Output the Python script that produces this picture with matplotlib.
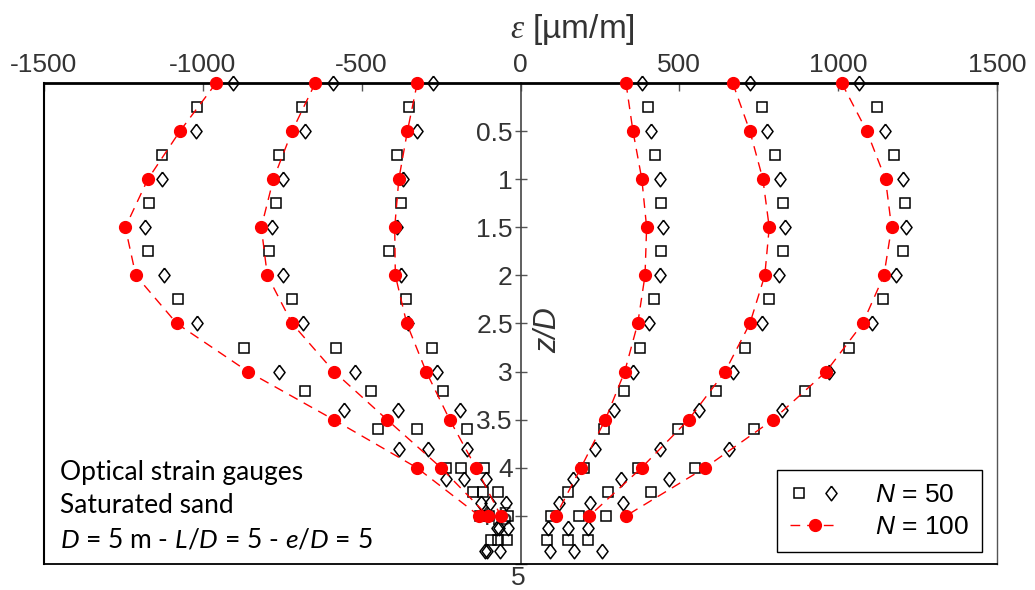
import matplotlib
matplotlib.use("Agg")
import matplotlib.pyplot as plt
from matplotlib.lines import Line2D
from matplotlib.legend_handler import HandlerTuple

# --- fuentes ---
plt.rcParams['font.family'] = ['Liberation Sans', 'DejaVu Sans']
plt.rcParams['axes.unicode_minus'] = False
plt.rcParams['mathtext.fontset'] = 'custom'
plt.rcParams['mathtext.rm'] = 'Lato'
plt.rcParams['mathtext.it'] = 'Lato:italic'
plt.rcParams['mathtext.sf'] = 'Liberation Sans:italic'
plt.rcParams['mathtext.bf'] = 'Liberation Serif:italic'

# --- profundidades z/D ---
z_n100 = [0, 0.5, 1, 1.5, 2, 2.5, 3, 3.5, 4, 4.5]
z_sq = [0.25, 0.75, 1.25, 1.75, 2.25, 2.75, 3.2, 3.6, 4.0, 4.25, 4.5, 4.75]
z_di = [0, 0.5, 1, 1.5, 2, 2.5, 3, 3.4, 3.8, 4.12, 4.37, 4.63, 4.87]

# --- N = 100 (rojo) ---
n100_L3 = [-958, -1072, -1173, -1244, -1211, -1082, -858, -588, -326, -130]
n100_L2 = [-646, -719, -778, -816, -797, -719, -587, -420, -250, -103]
n100_L1 = [-325, -356, -383, -396, -394, -358, -297, -223, -140, -62]
n100_R1 = [332, 354, 382, 397, 392, 369, 328, 267, 190, 111]
n100_R2 = [668, 722, 763, 783, 769, 722, 644, 529, 381, 217]
n100_R3 = [1011, 1090, 1149, 1168, 1144, 1077, 962, 795, 581, 332]

# --- N = 50, cuadrados ---
sq_L3 = [-1017, -1128, -1169, -1173, -1078, -871, -678, -450, -234, -150, -128, -92]
sq_L2 = [-688, -761, -770, -793, -719, -582, -471, -325, -187, -119, -100, -72]
sq_L1 = [-352, -390, -375, -413, -360, -279, -243, -168, -114, -72, -39, -44]
sq_R1 = [401, 423, 442, 442, 419, 377, 327, 262, 201, 149, 97, 83]
sq_R2 = [759, 800, 827, 827, 781, 708, 615, 497, 369, 276, 185, 148]
sq_R3 = [1122, 1177, 1209, 1204, 1140, 1033, 896, 735, 549, 410, 268, 213]

# --- N = 50, rombos ---
di_L3 = [-904, -1021, -1128, -1182, -1123, -1017, -760, -555, -384, -233, -123, -75, -113]
di_L2 = [-591, -679, -747, -782, -747, -686, -522, -385, -292, -178, -95, -69, -107]
di_L1 = [-274, -325, -369, -388, -377, -353, -263, -192, -167, -109, -47, -39, -64]
di_R1 = [382, 410, 438, 448, 438, 406, 355, 295, 235, 165, 121, 85, 92]
di_R2 = [722, 777, 818, 832, 814, 759, 668, 561, 440, 316, 220, 148, 169]
di_R3 = [1066, 1148, 1205, 1213, 1181, 1106, 972, 822, 657, 468, 323, 212, 258]

x_ticks = [-1500, -1000, -500, 0, 500, 1000, 1500]
x_tick_labels = ['-1500', '-1000', '-500', '0', '500', '1000', '1500']
z_ticks = [0.5, 1, 1.5, 2, 2.5, 3, 3.5, 4, 4.5, 5]
z_tick_labels = ['0.5', '1', '1.5', '2', '2.5', '3', '3.5', '4', '4.5', '']

notes = ['Optical strain gauges',
         'Saturated sand',
         '$D$ = 5 m - $L$/$D$ = 5 - $e$/$D$ = 5']

DIAMOND = [(0, 0.5), (0.38, 0), (0, -0.5), (-0.38, 0), (0, 0.5)]
TXT = '#333333'

fig = plt.figure(figsize=(10.35, 5.9), dpi=100)
ax = fig.add_axes([0.0425, 0.0441, 0.9208, 0.8152])

sq_style = dict(ls='none', marker='s', ms=6.5, mfc='none', mec='black', mew=1.1)
di_style = dict(ls='none', marker=DIAMOND, ms=10.5, mfc='none', mec='black', mew=1.1)
red_style = dict(color='red', ls=(0, (7, 5)), lw=1.0, marker='o', ms=8.5, mfc='red', mec='red')

for eps in [sq_L3, sq_L2, sq_L1, sq_R1, sq_R2, sq_R3]:
    ax.plot(eps, z_sq, clip_on=False, zorder=3, **sq_style)
for eps in [di_L3, di_L2, di_L1, di_R1, di_R2, di_R3]:
    ax.plot(eps, z_di, clip_on=False, zorder=3, **di_style)
for eps in [n100_L3, n100_L2, n100_L1, n100_R1, n100_R2, n100_R3]:
    ax.plot(eps, z_n100, clip_on=False, zorder=4, **red_style)

ax.set_xlim(-1500, 1500)
ax.set_ylim(5, 0)

# eje x arriba
ax.xaxis.set_ticks_position('top')
ax.set_xticks(x_ticks)
ax.set_xticklabels(x_tick_labels)
ax.tick_params(axis='x', direction='in', length=6, width=1, pad=4,
               labelsize=19, labelcolor=TXT, color='#555555')

# eje y en el centro
ax.spines['left'].set_position(('data', 0))
ax.spines['left'].set_color('#444444')
ax.spines['left'].set_linewidth(1.2)
ax.set_yticks(z_ticks)
ax.set_yticklabels(z_tick_labels)
ax.tick_params(axis='y', direction='inout', length=9, width=1, pad=1,
               labelsize=19, labelcolor=TXT, color='#555555')

ax.spines['top'].set_linewidth(2)
ax.spines['bottom'].set_linewidth(1.3)
ax.spines['right'].set_linewidth(1.0)
ax.spines['right'].set_color('#555555')
ax.add_line(Line2D([0, 0], [0, 1], transform=ax.transAxes, color='black',
                   lw=1.5, clip_on=False))

# etiqueta "5" debajo del eje central
fig.text(518 / 1035, 0.0, '5', ha='center', va='bottom', fontsize=19, color=TXT)

fig.text(510 / 1035, 1 - 38 / 590, r'$\mathbf{\varepsilon}$ [µm/m]',
         fontsize=24, ha='left', va='baseline', color=TXT)
fig.text(548 / 1035, 1 - 330 / 590, 'z/D', rotation=90, style='italic',
         fontsize=22, ha='center', va='center', color=TXT)

for y, line in zip([0.1746, 0.106, 0.0333], notes):
    ax.text(0.0168, y, line, transform=ax.transAxes, fontsize=19,
            family='Lato', va='baseline', color='black')

h_sq = Line2D([], [], **sq_style)
h_di = Line2D([], [], **di_style)
h_red = Line2D([], [], **red_style)
leg = ax.legend([(h_sq, h_di), h_red],
                [r'$\mathsf{N}$ = 50', r'$\mathsf{N}$ = 100'],
                handler_map={tuple: HandlerTuple(ndivide=None, pad=0.5)},
                loc='lower right', bbox_to_anchor=(0.984, 0.025),
                borderaxespad=0, fontsize=19, fancybox=False,
                edgecolor='black', framealpha=1, handlelength=1.9,
                handletextpad=1.3, labelspacing=0.3, borderpad=0.5)
leg.get_frame().set_linewidth(1.0)
for t in leg.get_texts():
    t.set_color('black')

fig.savefig('out.png', dpi=100)
